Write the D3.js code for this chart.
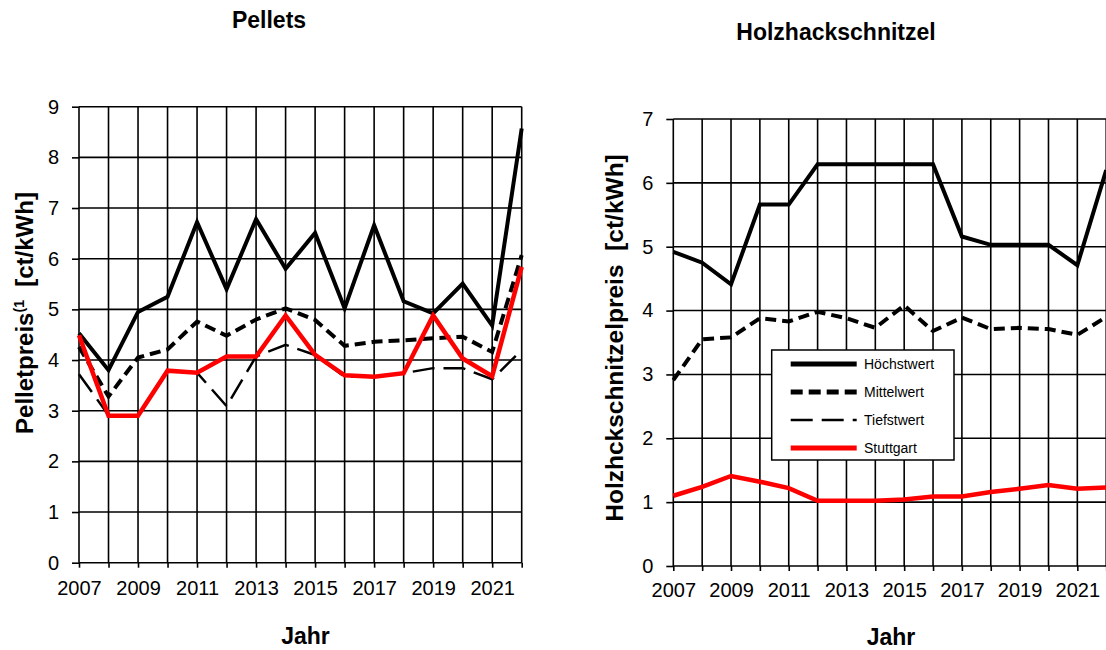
<!DOCTYPE html>
<html><head><meta charset="utf-8">
<script src="https://cdn.jsdelivr.net/npm/d3@7"></script>
<style>body{margin:0;background:#fff}svg{display:block;font-family:"Liberation Sans",Arial,sans-serif}</style>
</head><body>
<svg id="c" width="1106" height="650"></svg>
<script>
const years = d3.range(2007, 2023);
// Pellets (ct/kWh)
const pelHoechst = [4.53,3.80,4.95,5.25,6.72,5.40,6.78,5.80,6.51,5.02,6.66,5.16,4.92,5.51,4.68,8.57];
const pelMittel  = [4.26,3.28,4.05,4.21,4.76,4.48,4.80,5.02,4.79,4.28,4.36,4.39,4.43,4.46,4.16,6.07];
const pelTiefst  = [3.72,2.91,2.90,3.79,3.75,3.09,4.07,4.30,4.10,3.67,3.68,3.74,3.84,3.84,3.62,4.20];
const pelStgt    = [4.49,2.90,2.90,3.79,3.75,4.07,4.07,4.88,4.10,3.70,3.67,3.74,4.88,4.03,3.68,5.84];
// Holzhackschnitzel (ct/kWh)
const hhsHoechst = [4.92,4.75,4.41,5.66,5.66,6.29,6.29,6.29,6.29,6.29,5.16,5.03,5.03,5.03,4.71,6.20];
const hhsMittel  = [2.91,3.55,3.58,3.88,3.83,3.98,3.88,3.73,4.08,3.68,3.89,3.71,3.73,3.71,3.62,3.90];
const hhsTiefst  = [1.10,1.24,1.41,1.32,1.22,1.02,1.02,1.02,1.04,1.09,1.09,1.16,1.21,1.27,1.21,1.23];
const hhsStgt    = [1.10,1.24,1.41,1.32,1.22,1.02,1.02,1.02,1.04,1.09,1.09,1.16,1.21,1.27,1.21,1.23];
const pelYTicks = d3.range(0, 10);
const hhsYTicks = d3.range(0, 8);
const seriesNames = ["Höchstwert","Mittelwert","Tiefstwert","Stuttgart"];

const styles = {
  "Höchstwert": {stroke:"#000", w:4, dash:null},
  "Mittelwert": {stroke:"#000", w:4, dash:"11,6"},
  "Tiefstwert": {stroke:"#000", w:2.5, dash:"22,9"},
  "Stuttgart":  {stroke:"#ff0000", w:4.5, dash:null}
};

const svg = d3.select("#c");

function chart(cfg){
  const g = svg.append("g");
  const x = d3.scaleLinear([2007,2022], cfg.xr);
  const y = d3.scaleLinear([0, cfg.ymax], cfg.yr);
  // grid
  g.append("g").selectAll("line").data(cfg.yticks).join("line")
    .attr("x1", x(2007)).attr("x2", x(2022)).attr("y1", d=>y(d)).attr("y2", d=>y(d))
    .attr("stroke","#000").attr("stroke-width",1.6);
  g.append("g").selectAll("line").data(years).join("line")
    .attr("x1", d=>x(d)).attr("x2", d=>x(d)).attr("y1", y(0)).attr("y2", y(cfg.ymax))
    .attr("stroke","#000").attr("stroke-width",1.6);
  // axes
  const ya = g.append("g").attr("transform",`translate(${x(2007)},0)`)
    .call(d3.axisLeft(y).tickValues(cfg.yticks).tickSize(7).tickPadding(13).tickFormat(d3.format("d")));
  const xa = g.append("g").attr("transform",`translate(0,${y(0)})`)
    .call(d3.axisBottom(x).tickValues(years).tickSize(5).tickPadding(cfg.xpad).tickFormat(d => d%2 ? d : ""));
  [ya, xa].forEach(a => {
    a.select(".domain").remove();
    a.selectAll("line").attr("stroke","#000").attr("stroke-width",1.6);
    a.selectAll("text").attr("font-size",20).attr("fill","#000").attr("font-family","'Liberation Sans',Arial,sans-serif");
  });
  // series
  const line = d3.line().x((d,i)=>x(years[i])).y(d=>y(d));
  cfg.order.forEach(name => {
    const s = styles[name];
    g.append("path").datum(cfg.data[name]).attr("d", line)
      .attr("fill","none").attr("stroke", s.stroke).attr("stroke-width", s.w)
      .attr("stroke-dasharray", s.dash);
  });
  // titles
  g.append("text").attr("x", cfg.title[1]).attr("y", cfg.title[2]).attr("text-anchor","middle")
    .attr("font-weight","bold").attr("font-size",23).text(cfg.title[0]);
  g.append("text").attr("x", cfg.jahr[0]).attr("y", cfg.jahr[1]).attr("text-anchor","middle")
    .attr("font-weight","bold").attr("font-size",23).text("Jahr");
  const yt = g.append("text").attr("transform",`translate(${cfg.ytitle[0]},${cfg.ytitle[1]}) rotate(-90)`)
    .attr("text-anchor","middle").attr("font-weight","bold").attr("font-size",cfg.ytitle[2]);
  cfg.ylabel(yt);
  return {x, y, g};
}

chart({
  xr:[79,521.7], yr:[562.7,106.7], ymax:9, yticks:pelYTicks, xpad:13,
  data:{"Höchstwert":pelHoechst,"Mittelwert":pelMittel,"Tiefstwert":pelTiefst,"Stuttgart":pelStgt},
  order:["Tiefstwert","Mittelwert","Höchstwert","Stuttgart"],
  title:["Pellets",269,28], jahr:[305.5,643.5], ytitle:[33,313,24],
  ylabel: t => {
    t.append("tspan").text("Pelletpreis");
    t.append("tspan").attr("font-size",14).attr("dy",-9).text("(1");
    t.append("tspan").attr("dy",9).attr("xml:space","preserve").text("  [ct/kWh]");
  }
});

chart({
  xr:[673.3,1106.2], yr:[566,119], ymax:7, yticks:hhsYTicks, xpad:11.5,
  data:{"Höchstwert":hhsHoechst,"Mittelwert":hhsMittel,"Tiefstwert":hhsTiefst,"Stuttgart":hhsStgt},
  order:["Tiefstwert","Mittelwert","Höchstwert","Stuttgart"],
  title:["Holzhackschnitzel",836,40], jahr:[891,645], ytitle:[623,338,24.5],
  ylabel: t => { t.attr("xml:space","preserve").text("Holzhckschnitzelpreis  [ct/kWh]"); }
});

// legend
const lg = svg.append("g").attr("transform","translate(771.7,350)");
lg.append("rect").attr("width",182.3).attr("height",110).attr("fill","#fff")
  .attr("stroke","#000").attr("stroke-width",1.5);
const legendStyles = {
  "Höchstwert": {w:5, dash:null},
  "Mittelwert": {w:5, dash:"12,6"},
  "Tiefstwert": {w:2.5, dash:"22,9"},
  "Stuttgart":  {w:5, dash:null}
};
seriesNames.forEach((n,i) => {
  const yy = 14 + i*28;
  lg.append("line").attr("x1",19).attr("x2",85).attr("y1",yy).attr("y2",yy)
    .attr("stroke", styles[n].stroke).attr("stroke-width", legendStyles[n].w)
    .attr("stroke-dasharray", legendStyles[n].dash);
  lg.append("text").attr("x",92.3).attr("y",yy+5).attr("font-size",14).text(n);
});
</script>
</body></html>
